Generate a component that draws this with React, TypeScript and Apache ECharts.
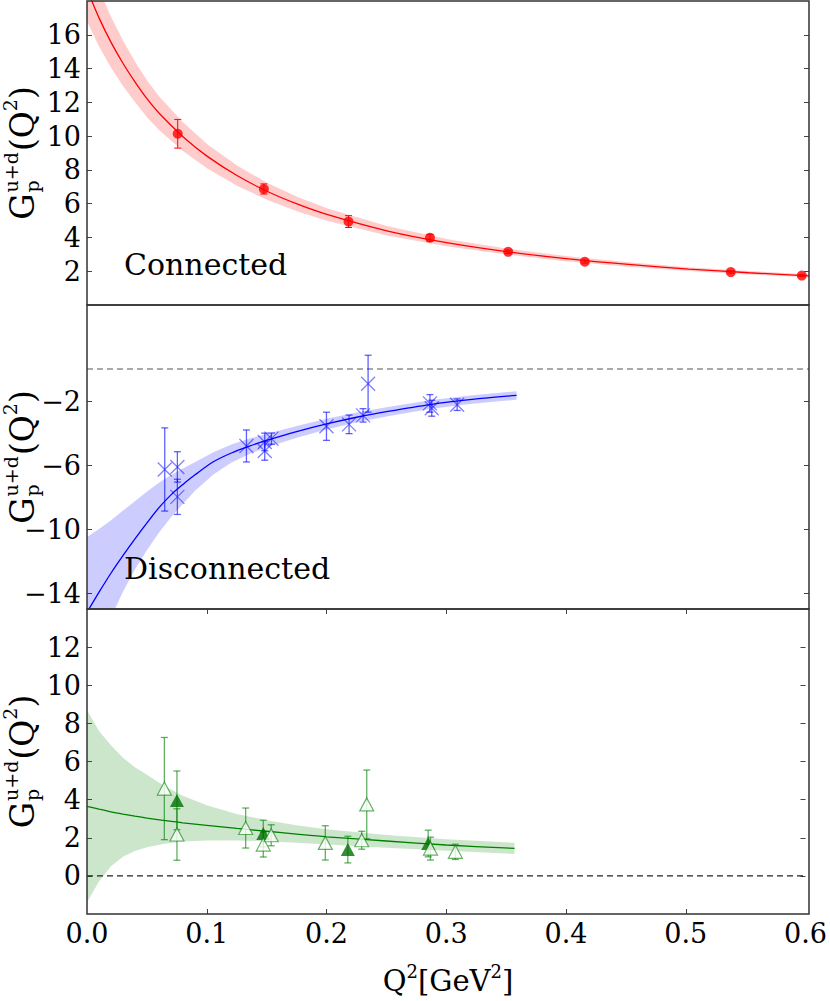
import React, { useEffect, useRef } from "react";
import * as echarts from "echarts";

const FONT = "'DejaVu Serif', serif";

// ---------- Panel 1: connected ----------
const conQ2 = [0.0754, 0.147, 0.2173, 0.285, 0.35, 0.4137, 0.535, 0.594];
const conVal = [10.14, 6.87, 4.94, 3.98, 3.15, 2.56, 1.95, 1.74];
const conErr = [0.85, 0.3, 0.35, 0.2, 0.1, 0.08, 0.07, 0.06];
const conFitQ2 = [0, 0.01, 0.02, 0.03, 0.04, 0.05, 0.06, 0.08, 0.1, 0.125, 0.15, 0.175, 0.2, 0.25, 0.3, 0.35, 0.4, 0.45, 0.5, 0.55, 0.6];
const conFit = [18.7, 17.0, 15.55, 14.3, 13.2, 12.2, 11.35, 9.95, 8.8, 7.65, 6.72, 5.97, 5.35, 4.38, 3.68, 3.15, 2.73, 2.4, 2.13, 1.91, 1.73];
const conLo = [16.8, 15.3, 14.05, 12.95, 12.0, 11.1, 10.35, 9.1, 8.08, 7.05, 6.22, 5.54, 4.98, 4.1, 3.46, 2.97, 2.58, 2.27, 2.02, 1.81, 1.64];
const conHi = [20.6, 18.7, 17.05, 15.65, 14.4, 13.3, 12.35, 10.8, 9.52, 8.25, 7.22, 6.4, 5.72, 4.66, 3.9, 3.33, 2.88, 2.53, 2.24, 2.01, 1.82];

// ---------- Panel 2: disconnected ----------
const disQ2 = [0.0646, 0.0751, 0.0751, 0.1325, 0.1477, 0.1477, 0.1533, 0.199, 0.2178, 0.2294, 0.2336, 0.285, 0.2865, 0.3076];
const disVal = [-6.28, -6.12, -7.99, -4.81, -4.56, -5.12, -4.35, -3.58, -3.46, -2.9, -0.92, -2.15, -2.45, -2.23];
const disErr = [2.6, 0.95, 1.1, 1.0, 0.55, 0.58, 0.35, 0.88, 0.58, 0.42, 1.78, 0.55, 0.5, 0.36];
const disFitQ2 = [0, 0.01, 0.02, 0.03, 0.04, 0.05, 0.06, 0.07, 0.08, 0.09, 0.105, 0.12, 0.135, 0.15, 0.175, 0.2, 0.225, 0.25, 0.285, 0.32, 0.357];
const disFit = [-15.2, -13.95, -12.75, -11.65, -10.6, -9.6, -8.65, -7.85, -7.2, -6.6, -5.8, -5.25, -4.82, -4.45, -3.9, -3.42, -3.0, -2.65, -2.22, -1.9, -1.65];
const disLo = [-20, -17.6, -15.5, -13.9, -12.5, -11.3, -10.2, -9.25, -8.4, -7.6, -6.6, -5.85, -5.32, -4.88, -4.28, -3.76, -3.32, -2.95, -2.5, -2.17, -1.92];
const disHi = [-10.5, -10.0, -9.45, -8.85, -8.25, -7.65, -7.1, -6.62, -6.2, -5.82, -5.2, -4.72, -4.35, -4.04, -3.55, -3.1, -2.7, -2.37, -1.95, -1.64, -1.39];

// ---------- Panel 3: total ----------
const openQ2 = [0.0646, 0.0751, 0.1325, 0.1472, 0.1538, 0.199, 0.2294, 0.2336, 0.2868, 0.3076];
const openVal = [4.58, 2.17, 2.51, 1.64, 2.13, 1.73, 1.87, 3.75, 1.43, 1.26];
const openErr = [2.68, 1.35, 1.05, 0.65, 0.55, 0.9, 0.47, 1.8, 0.6, 0.4];
const fillQ2 = [0.0751, 0.1472, 0.2178, 0.2849];
const fillVal = [3.96, 2.22, 1.38, 1.7];
const fillErr = [1.54, 0.7, 0.7, 0.7];
const totFitQ2 = [0, 0.01, 0.02, 0.03, 0.04, 0.05, 0.065, 0.08, 0.1, 0.125, 0.15, 0.175, 0.2, 0.25, 0.3, 0.357];
const totFit = [3.65, 3.5, 3.36, 3.24, 3.13, 3.03, 2.9, 2.78, 2.65, 2.49, 2.34, 2.19, 2.05, 1.83, 1.62, 1.44];
const totLo = [-1.4, -0.3, 0.5, 1.0, 1.3, 1.5, 1.68, 1.8, 1.86, 1.86, 1.82, 1.74, 1.65, 1.48, 1.32, 1.15];
const totHi = [8.7, 7.6, 6.85, 6.2, 5.7, 5.3, 4.7, 4.2, 3.7, 3.25, 2.92, 2.66, 2.45, 2.15, 1.92, 1.74];

const zeroLineQ2 = [0, 0.6];

// ---------- axes ----------
const xRange = [0, 0.6];
const xTickLabels = [0, 0.1, 0.2, 0.3, 0.4, 0.5, 0.6];
const xInnerTicks = [0.1, 0.2, 0.3, 0.4, 0.5];
const yRanges = [[0, 18], [-15, 4], [-2, 14]];
const yTicks = [
  [2, 4, 6, 8, 10, 12, 14, 16],
  [-14, -10, -6, -2],
  [0, 2, 4, 6, 8, 10, 12],
];
const panelTexts = ["Connected", "Disconnected", ""];

// ---------- layout ----------
const PLOT_LEFT = 87;
const PLOT_WIDTH = 722;
const PANELS = [
  { top: 1, height: 304 },
  { top: 305, height: 304 },
  { top: 609, height: 305 },
];

let measureCtx: CanvasRenderingContext2D | null = null;
function tw(t: string, size: number): number {
  if (!measureCtx) measureCtx = document.createElement("canvas").getContext("2d");
  if (!measureCtx) return t.length * size * 0.6;
  measureCtx.font = `${size}px "DejaVu Serif"`;
  return measureCtx.measureText(t).width;
}

function txt(t: string, x: number, y: number, size: number, extra: any = {}) {
  return {
    type: "text",
    x,
    y,
    z: 100,
    silent: true,
    style: {
      text: t,
      fontSize: size,
      fontFamily: FONT,
      fill: "#000",
      align: "left",
      textAlign: "left",
      verticalAlign: "middle",
      textVerticalAlign: "middle",
      ...extra,
    },
  };
}

function mathPieces(pieces: { t: string; s: number; dy: number }[]) {
  const out: any[] = [];
  let x = 0;
  for (const p of pieces) {
    out.push({ ...p, x });
    x += tw(p.t, p.s);
  }
  return { out, total: x };
}

function yTitle(cx: number, cy: number) {
  const big = 33;
  const small = 19;
  const supW = Math.max(tw("u+d", small), tw("p", small));
  const gW = tw("G", big);
  const pieces: any[] = [];
  let x = 0;
  pieces.push({ t: "G", s: big, dy: 0, x });
  x += gW;
  pieces.push({ t: "u+d", s: small, dy: -11, x: x + 1 });
  pieces.push({ t: "p", s: small, dy: 10, x: x + 1 });
  x += supW + 2;
  pieces.push({ t: "(Q", s: big, dy: 0, x });
  x += tw("(Q", big);
  pieces.push({ t: "2", s: small, dy: -12, x });
  x += tw("2", small);
  pieces.push({ t: ")", s: big, dy: 0, x });
  x += tw(")", big);
  const total = x;
  return {
    type: "group",
    x: cx,
    y: cy,
    rotation: Math.PI / 2,
    z: 100,
    children: pieces.map((p) => txt(p.t, p.x - total / 2, p.dy, p.s)),
  };
}

function xTitle(cx: number, cy: number) {
  const big = 29;
  const small = 18;
  const { out, total } = mathPieces([
    { t: "Q", s: big, dy: 0 },
    { t: "2", s: small, dy: -10 },
    { t: "[GeV", s: big, dy: 0 },
    { t: "2", s: small, dy: -10 },
    { t: "]", s: big, dy: 0 },
  ]);
  return {
    type: "group",
    x: cx,
    y: cy,
    z: 100,
    children: out.map((p) => txt(p.t, p.x - total / 2, p.dy, p.s)),
  };
}

function bandSeries(gi: number, q: number[], lo: number[], hi: number[], color: string) {
  return {
    type: "custom",
    xAxisIndex: 2 * gi,
    yAxisIndex: 2 * gi,
    silent: true,
    clip: true,
    z: 1,
    data: [[q[0], lo[0]]],
    renderItem: (params: any, api: any) => {
      const pts: number[][] = [];
      for (let i = 0; i < q.length; i++) pts.push(api.coord([q[i], hi[i]]));
      for (let i = q.length - 1; i >= 0; i--) pts.push(api.coord([q[i], lo[i]]));
      const cs = params.coordSys;
      return {
        type: "polygon",
        shape: { points: pts },
        style: { fill: color, stroke: "none" },
        clipPath: { type: "rect", shape: { x: cs.x, y: cs.y, width: cs.width, height: cs.height } },
      };
    },
  };
}

function fitSeries(gi: number, q: number[], v: number[], color: string) {
  return {
    type: "line",
    xAxisIndex: 2 * gi,
    yAxisIndex: 2 * gi,
    data: q.map((x, i) => [x, v[i]]),
    symbol: "none",
    smooth: 0.3,
    silent: true,
    lineStyle: { color, width: 1.3 },
    z: 2,
  };
}

function zeroSeries(gi: number, color: string) {
  return {
    type: "line",
    xAxisIndex: 2 * gi,
    yAxisIndex: 2 * gi,
    data: zeroLineQ2.map((x) => [x, 0]),
    symbol: "none",
    silent: true,
    lineStyle: { color, width: 1.2, type: [6, 4] },
    z: 2,
  };
}

function errSeries(gi: number, q: number[], v: number[], e: number[], color: string, cap: number, lw: number) {
  return {
    type: "custom",
    xAxisIndex: 2 * gi,
    yAxisIndex: 2 * gi,
    silent: true,
    z: 3,
    encode: { x: 0, y: [1, 2] },
    data: q.map((x, i) => [x, v[i] - e[i], v[i] + e[i]]),
    renderItem: (params: any, api: any) => {
      const x = api.value(0);
      const p1 = api.coord([x, api.value(1)]);
      const p2 = api.coord([x, api.value(2)]);
      const h = cap / 2;
      const st = { stroke: color, lineWidth: lw };
      return {
        type: "group",
        children: [
          { type: "line", shape: { x1: p1[0], y1: p1[1], x2: p2[0], y2: p2[1] }, style: st },
          { type: "line", shape: { x1: p1[0] - h, y1: p1[1], x2: p1[0] + h, y2: p1[1] }, style: st },
          { type: "line", shape: { x1: p2[0] - h, y1: p2[1], x2: p2[0] + h, y2: p2[1] }, style: st },
        ],
      };
    },
  };
}

function markerSeries(gi: number, q: number[], v: number[], symbol: string, size: any, itemStyle: any) {
  return {
    type: "scatter",
    xAxisIndex: 2 * gi,
    yAxisIndex: 2 * gi,
    data: q.map((x, i) => [x, v[i]]),
    symbol,
    symbolSize: size,
    itemStyle,
    silent: true,
    z: 5,
  };
}

function buildOption() {
  const grids = PANELS.map((p) => ({
    left: PLOT_LEFT,
    top: p.top,
    width: PLOT_WIDTH,
    height: p.height,
    containLabel: false,
  }));

  const tickStyle = { color: "#444", width: 1 };
  const xAxes: any[] = [];
  const yAxes: any[] = [];
  PANELS.forEach((_, gi) => {
    ["bottom", "top"].forEach((pos) => {
      xAxes.push({
        type: "value",
        gridIndex: gi,
        position: pos,
        min: xRange[0],
        max: xRange[1],
        axisLine: { show: false, onZero: false },
        splitLine: { show: false },
        axisTick: {
          show: gi === 2,
          inside: true,
          length: 5,
          lineStyle: tickStyle,
          customValues: xInnerTicks,
        },
        axisLabel: {
          show: gi === 2 && pos === "bottom",
          customValues: xTickLabels,
          formatter: (v: number) => v.toFixed(1),
          fontFamily: FONT,
          fontSize: 27,
          color: "#000",
          margin: 6,
        },
      });
    });
    ["left", "right"].forEach((pos) => {
      yAxes.push({
        type: "value",
        gridIndex: gi,
        position: pos,
        min: yRanges[gi][0],
        max: yRanges[gi][1],
        axisLine: { show: false, onZero: false },
        splitLine: { show: false },
        axisTick: { show: true, inside: true, length: 5, lineStyle: tickStyle, customValues: yTicks[gi] },
        axisLabel: {
          show: pos === "left",
          customValues: yTicks[gi],
          formatter: (v: number) => String(v).replace("-", "\u2212"),
          fontFamily: FONT,
          fontSize: 27,
          color: "#000",
          margin: 6,
        },
      });
    });
  });

  const red = "#ff0000";
  const blue = "#0000ff";
  const blueLight = "rgba(0,0,255,0.62)";
  const green = "#008000";
  const greenLight = "rgba(0,128,0,0.62)";

  const series: any[] = [
    bandSeries(0, conFitQ2, conLo, conHi, "rgba(255,0,0,0.2)"),
    fitSeries(0, conFitQ2, conFit, red),
    errSeries(0, conQ2, conVal, conErr, red, 7, 1),
    markerSeries(0, conQ2, conVal, "circle", 10, { color: red }),

    bandSeries(1, disFitQ2, disLo, disHi, "rgba(0,0,255,0.2)"),
    fitSeries(1, disFitQ2, disFit, blue),
    zeroSeries(1, "#555"),
    errSeries(1, disQ2, disVal, disErr, blueLight, 7, 1.3),
    markerSeries(1, disQ2, disVal, "path://M0 0L10 10M10 0L0 10", 14, {
      color: "transparent",
      borderColor: blueLight,
      borderWidth: 1.3,
    }),

    bandSeries(2, totFitQ2, totLo, totHi, "rgba(0,128,0,0.2)"),
    fitSeries(2, totFitQ2, totFit, green),
    zeroSeries(2, "#222"),
    errSeries(2, openQ2, openVal, openErr, greenLight, 7, 1.3),
    errSeries(2, fillQ2, fillVal, fillErr, greenLight, 7, 1.3),
    markerSeries(2, fillQ2, fillVal, "triangle", [14, 13], { color: "#007000" }),
    markerSeries(2, openQ2, openVal, "triangle", [14, 13], {
      color: "#ffffff",
      borderColor: "rgba(0,128,0,0.75)",
      borderWidth: 1.2,
    }),
  ];

  const graphics: any[] = [];
  PANELS.forEach((p, gi) => {
    graphics.push({
      type: "rect",
      z: 100,
      silent: true,
      shape: { x: PLOT_LEFT, y: p.top, width: PLOT_WIDTH, height: p.height },
      style: { fill: "none", stroke: "#333", lineWidth: 1.5 },
    });
    graphics.push(yTitle(22, p.top + p.height / 2));
    if (panelTexts[gi]) {
      graphics.push(txt(panelTexts[gi], 124, p.top + p.height - 41, 30));
    }
  });
  graphics.push(xTitle(PLOT_LEFT + PLOT_WIDTH / 2, 981));

  return {
    animation: false,
    backgroundColor: "#ffffff",
    grid: grids,
    xAxis: xAxes,
    yAxis: yAxes,
    series,
    graphic: { elements: graphics },
  };
}

export default function App() {
  const ref = useRef<HTMLDivElement>(null);
  useEffect(() => {
    if (!ref.current) return;
    const chart = echarts.init(ref.current, undefined, { renderer: "svg" });
    chart.setOption(buildOption() as any);
    return () => chart.dispose();
  }, []);
  return (
    <div
      ref={ref}
      style={{ position: "absolute", left: 0, top: 0, width: 830, height: 1001, background: "#fff" }}
    />
  );
}
